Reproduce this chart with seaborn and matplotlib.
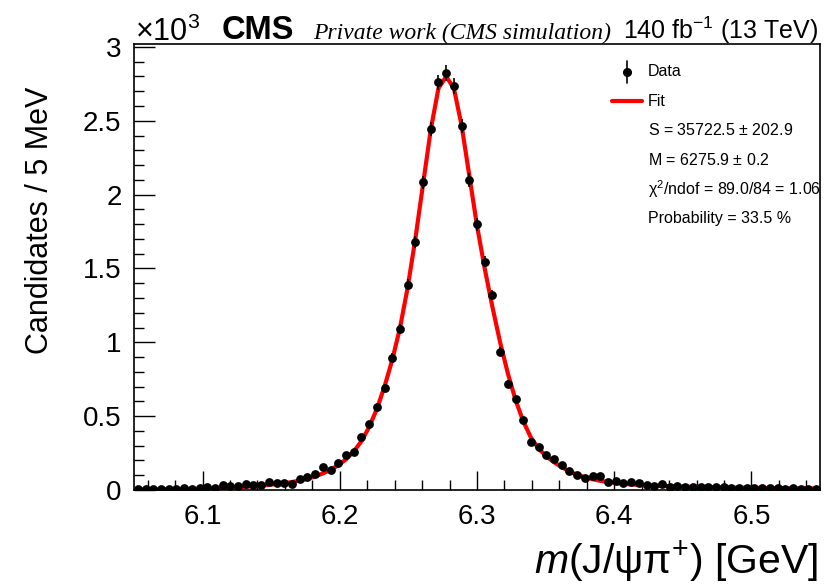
import numpy as np
import matplotlib
matplotlib.use("Agg")
import matplotlib.pyplot as plt
from matplotlib.ticker import MultipleLocator, FuncFormatter
import seaborn as sns

# binning: 89 bins between 6.05 and 6.55 GeV
x_lo, x_hi, n_bins = 6.05, 6.55, 89

# data counts per bin
counts = [6, 7, 5, 6, 6, 7, 11, 5, 11, 18, 16, 34, 29, 27, 43, 34, 34, 52, 50, 50, 43, 74,
          90, 108, 154, 135, 185, 237, 255, 361, 447, 560, 693, 896, 1088,
          1390,
          1677, 2083, 2444, 2760, 2825, 2735, 2464, 2099, 1799,
          1546, 1320, 936, 718, 614, 474, 327, 290,
          237, 210, 169, 131, 102, 83, 95, 97, 56, 61, 50, 52, 45, 34, 29, 38, 23, 29, 23, 23, 23,
          20, 18, 19, 16, 15, 14, 15, 13, 12, 12, 10, 11, 9, 9, 8]

# fit curve value at each bin centre
fit_vals = [4, 4, 5, 5, 6, 6, 7, 8, 9, 10, 12, 14, 16, 19, 22, 26, 30, 35, 40, 46, 54, 64,
            76, 92, 112, 137, 168, 208, 260, 330, 425, 548, 700, 880, 1095,
            1370,
            1700, 2070, 2440, 2720, 2800, 2720, 2470, 2130, 1790,
            1500, 1240, 1000, 790, 610, 465, 355, 280,
            228, 188, 155, 125, 103, 86, 73, 62, 54, 47, 42, 38, 34, 31, 29, 27, 25, 24, 23, 22, 21,
            20, 19, 18, 17, 16, 15, 15, 14, 13, 13, 12, 12, 11, 11, 10]

legend_lines = ["S = 35722.5 $\\pm$ 202.9",
                "M = 6275.9 $\\pm$ 0.2",
                "$\\chi^{2}$/ndof = 89.0/84 = 1.06",
                "Probability = 33.5 %"]

sns.set_theme(style="ticks")
plt.rcParams["font.family"] = ["Liberation Sans", "DejaVu Sans"]
plt.rcParams["mathtext.fontset"] = "custom"
plt.rcParams["mathtext.rm"] = "Liberation Sans"
plt.rcParams["mathtext.it"] = "Liberation Sans:italic"
plt.rcParams["mathtext.default"] = "regular"
for key in ["text.color", "axes.labelcolor", "xtick.color", "ytick.color", "axes.edgecolor"]:
    plt.rcParams[key] = "black"

W, H = 827, 585
fig = plt.figure(figsize=(W / 100, H / 100), dpi=100)
ax = fig.add_axes([134 / W, 1 - 490 / H, (820 - 134) / W, (490 - 44) / H])

edges = np.linspace(x_lo, x_hi, n_bins + 1)
centers = 0.5 * (edges[:-1] + edges[1:])
counts = np.array(counts, dtype=float)
fit_vals = np.array(fit_vals, dtype=float)

sns.lineplot(x=centers, y=fit_vals, ax=ax, color="red", linewidth=3, zorder=2)
ax.errorbar(centers, counts, yerr=np.sqrt(counts), fmt="none", ecolor="black",
            elinewidth=1.2, capsize=0, zorder=3)
sns.scatterplot(x=centers, y=counts, ax=ax, color="black", s=40, marker="o",
                edgecolor="black", linewidth=0, zorder=4)

ax.set_xlim(x_lo, x_hi)
ax.set_ylim(0, 3020)
ax.xaxis.set_major_locator(MultipleLocator(0.1))
ax.xaxis.set_minor_locator(MultipleLocator(0.02))
ax.yaxis.set_major_locator(MultipleLocator(500))
ax.yaxis.set_minor_locator(MultipleLocator(100))
ax.xaxis.set_major_formatter(FuncFormatter(lambda v, p: f"{v:.1f}"))
ax.yaxis.set_major_formatter(FuncFormatter(lambda v, p: f"{v / 1000:g}"))
ax.tick_params(which="both", direction="in", top=False, right=False, colors="black",
               labelsize=20)
ax.tick_params(axis="x", which="major", length=14, width=1.0, pad=10)
ax.tick_params(axis="x", which="minor", length=7, width=1.0)
ax.tick_params(axis="y", which="major", length=15, width=1.0, pad=9)
ax.tick_params(axis="y", which="minor", length=7, width=1.0)
for s in ax.spines.values():
    s.set_visible(True)
    s.set_color("black")
    s.set_linewidth(1.2)
ax.set_facecolor("white")
ax.set_xlabel("")
ax.set_ylabel("")

# axis titles
fig.text(40 / W, 1 - 220 / H, "Candidates / 5 MeV", rotation=90, ha="center",
         va="center", fontsize=22)
fig.text(818 / W, 1 - 562 / H, r"$\mathit{m}$(J/$\psi\pi^{+}$) [GeV]", ha="right",
         va="center", fontsize=29.5)

# header
fig.text(135 / W, 1 - 41 / H, r"$\times$10$^{3}$", ha="left", va="baseline", fontsize=22)
fig.text(222 / W, 1 - 39 / H, "CMS", ha="left", va="baseline", fontsize=23.5,
         fontweight="bold")
fig.text(313 / W, 1 - 39 / H, "Private work (CMS simulation)", ha="left", va="baseline",
         fontsize=17, fontstyle="italic", family=["Liberation Serif", "DejaVu Serif"])
fig.text(818 / W, 1 - 39 / H, "140 fb$^{-1}$ (13 TeV)", ha="right", va="baseline",
         fontsize=18)

# legend drawn by hand
def fy(ypx):
    return 1 - ypx / H

fig.add_artist(plt.Line2D([627 / W, 627 / W], [fy(61), fy(83)], color="black", lw=1.2))
fig.add_artist(plt.Line2D([627 / W], [fy(72)], marker="o", color="black", ms=5.5))
fig.text(648 / W, fy(72), "Data", ha="left", va="center", fontsize=11.5)
fig.add_artist(plt.Line2D([612 / W, 642 / W], [fy(101), fy(101)], color="red", lw=3))
fig.text(648 / W, fy(101), "Fit", ha="left", va="center", fontsize=11.5)
for i, line in enumerate(legend_lines):
    fig.text(648 / W, fy(130 + 29.6 * i), line, ha="left", va="center", fontsize=11.5)

fig.savefig("out.png", dpi=100, facecolor="white")
